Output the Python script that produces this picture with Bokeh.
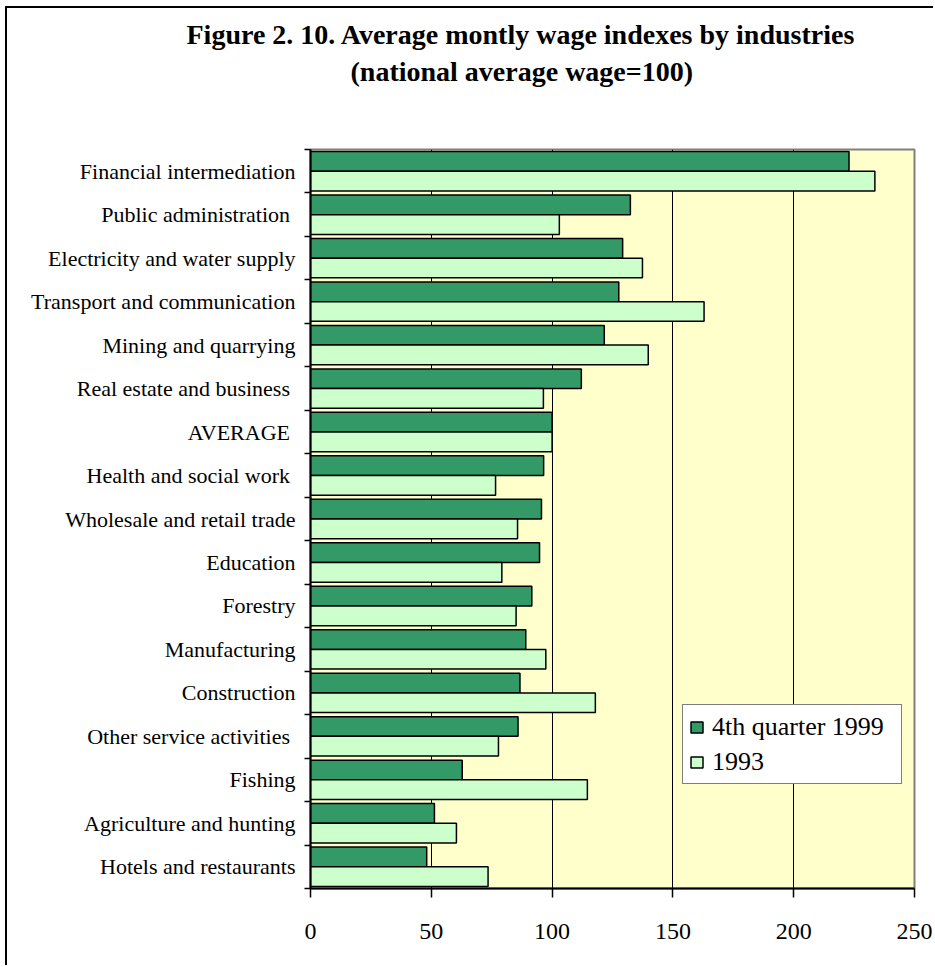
import numpy as np
from bokeh.plotting import figure
from bokeh.models import ColumnDataSource, Range1d, FixedTicker, Legend, LegendItem, Title
from bokeh.embed import file_html
from bokeh.resources import INLINE

# ---------------- data (top of chart to bottom) ----------------
industries = [
    "Financial intermediation",
    "Public administration ",
    "Electricity and water supply",
    "Transport and communication",
    "Mining and quarrying",
    "Real estate and business ",
    "AVERAGE ",
    "Health and social work ",
    "Wholesale and retail trade",
    "Education",
    "Forestry",
    "Manufacturing",
    "Construction",
    "Other  service activities",
    "Fishing",
    "Agriculture and hunting",
    "Hotels and restaurants",
]
q4_1999 = [222.9, 132.4, 129.2, 127.6, 121.6, 112.1, 100.0, 96.5, 95.6, 94.8,
           91.6, 89.1, 86.7, 85.9, 62.8, 51.3, 48.1]
y1993 = [233.6, 103.0, 137.4, 162.9, 139.8, 96.4, 100.0, 76.6, 85.7, 79.2,
         85.1, 97.4, 117.9, 77.8, 114.6, 60.4, 73.5]
series_names = ["4th quarter 1999", "1993"]
x_ticks = [0, 50, 100, 150, 200, 250]
title_lines = ["Figure 2. 10. Average montly wage indexes by industries",
               "(national average wage=100)"]

# ---------------- build ----------------
n = len(industries)
pos = [n - 1 - i for i in range(n)]
off = 0.2265
src = ColumnDataSource(dict(
    name=industries, pos=pos, a=q4_1999, b=y1993,
    pa=[v + off for v in pos], pb=[v - off for v in pos],
))

SERIF = "Liberation Serif"

p = figure(width=928, height=959,
           x_range=Range1d(0, 250), y_range=Range1d(-0.5, n - 0.5),
           output_backend="svg", toolbar_location=None,
           min_border_left=303, min_border_right=21,
           min_border_top=141, min_border_bottom=79)
p.styles = {"margin-left": "5px", "margin-top": "6px",
            "border-left": "2px solid black", "border-top": "2px solid black"}

p.background_fill_color = "#FFFFCC"
p.border_fill_color = "white"
p.outline_line_color = "#808080"
p.outline_line_width = 2

r1 = p.hbar(y="pa", left=0, right="a", height=0.453, source=src,
            fill_color="#339966", line_color="black", line_width=1.5)
r2 = p.hbar(y="pb", left=0, right="b", height=0.453, source=src,
            fill_color="#CCFFCC", line_color="black", line_width=1.5)

# grid
p.ygrid.visible = False
p.xgrid.grid_line_color = "black"
p.xgrid.grid_line_width = 1
p.xgrid.ticker = FixedTicker(ticks=x_ticks)

# x axis
p.xaxis.ticker = FixedTicker(ticks=x_ticks)
p.xaxis.axis_line_color = "black"
p.xaxis.axis_line_width = 2
p.xaxis.major_tick_line_color = "black"
p.xaxis.major_tick_line_width = 1.5
p.xaxis.major_tick_out = 9
p.xaxis.major_tick_in = 0
p.xaxis.minor_tick_line_color = None
p.xaxis.major_label_text_font = SERIF
p.xaxis.major_label_text_font_size = "24px"
p.xaxis.major_label_text_color = "black"
p.xaxis.major_label_standoff = 26

# y axis
p.yaxis.ticker = FixedTicker(ticks=pos, minor_ticks=[k - 0.5 for k in range(n + 1)])
p.yaxis.major_label_overrides = {pos[i]: industries[i] for i in range(n)}
p.yaxis.axis_line_color = "black"
p.yaxis.axis_line_width = 2
p.yaxis.major_tick_line_color = None
p.yaxis.major_tick_out = 0
p.yaxis.major_tick_in = 0
p.yaxis.minor_tick_line_color = "black"
p.yaxis.minor_tick_line_width = 1.5
p.yaxis.minor_tick_out = 6
p.yaxis.minor_tick_in = 0
p.yaxis.major_label_text_font = SERIF
p.yaxis.major_label_text_font_size = "22px"
p.yaxis.major_label_text_color = "black"
p.yaxis.major_label_standoff = 9

# legend
legend = Legend(items=[LegendItem(label=series_names[0], renderers=[r1]),
                       LegendItem(label=series_names[1], renderers=[r2])],
                location=(372, 104))
legend.label_text_font = SERIF
legend.label_text_font_size = "26px"
legend.label_text_color = "black"
legend.glyph_width = 15
legend.glyph_height = 14
legend.label_height = 31
legend.label_width = 183
legend.label_standoff = 8
legend.spacing = 4
legend.padding = 6
legend.margin = 0
legend.border_line_color = "black"
legend.border_line_width = 1.5
legend.background_fill_color = "white"
legend.background_fill_alpha = 1.0
p.add_layout(legend)

# title: spacer panel next to the plot, then the two lines (outermost last)
p.add_layout(Title(text=" ", text_font=SERIF, text_font_size="10px",
                   standoff=48), "above")
p.add_layout(Title(text=title_lines[1], text_font=SERIF, text_font_style="bold",
                   text_font_size="28px", text_color="black", align="left",
                   offset=40, standoff=4), "above")
p.add_layout(Title(text=title_lines[0], text_font=SERIF, text_font_style="bold",
                   text_font_size="28px", text_color="black", align="left",
                   offset=-124, standoff=4), "above")

open("out.html", "w").write(file_html(p, INLINE))
